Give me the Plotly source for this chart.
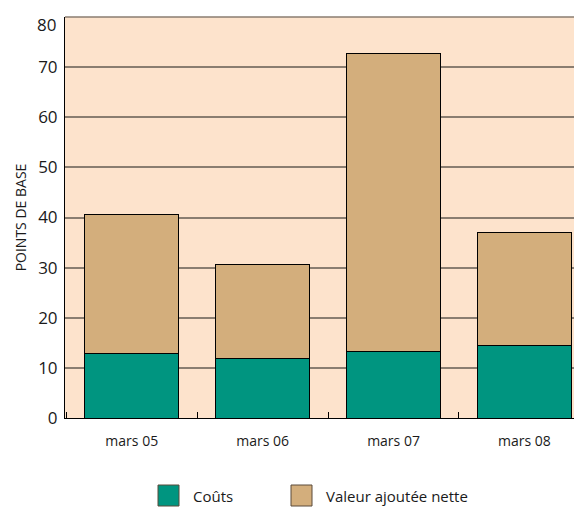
import plotly.graph_objects as go

categories = ["mars 05", "mars 06", "mars 07", "mars 08"]
couts = [12.9, 11.9, 13.3, 14.4]
valeur_ajoutee = [27.6, 18.8, 59.5, 22.7]
series_names = ["Coûts", "Valeur ajoutée nette"]
y_ticks = [0, 10, 20, 30, 40, 50, 60, 70, 80]

TEAL = "#009580"
TAN = "#d3ae7c"
BG = "#fde3cc"
GRID = "#8a7d70"
FONT = "Open Sans, Noto Sans, sans-serif"

fig = go.Figure()
fig.add_trace(go.Bar(x=categories, y=couts, name=series_names[0],
                     marker=dict(color=TEAL, line=dict(color="#000000", width=1))))
fig.add_trace(go.Bar(x=categories, y=valeur_ajoutee, name=series_names[1],
                     marker=dict(color=TAN, line=dict(color="#000000", width=1))))

# page body has an 8px margin, so the figure is 574x500 and starts at (8, 8)
fig.update_layout(
    barmode="stack",
    bargap=0.28,
    width=574, height=500,
    margin=dict(l=57, r=0, t=9, b=90, autoexpand=False),
    paper_bgcolor="white",
    plot_bgcolor=BG,
    showlegend=False,
    font=dict(family=FONT, color="#1a1a1a"),
)
fig.update_xaxes(
    type="category",
    range=[-0.51, 3.44],
    automargin=False,
    showline=True, linecolor="#000000", linewidth=1,
    ticks="inside", tickson="boundaries", ticklen=6, tickcolor="#000000", tickwidth=1,
    ticklabelstandoff=10,
    tickfont=dict(size=14, family=FONT, color="#1a1a1a"),
    showgrid=False,
)
# the top label (80) sits slightly below its gridline in the reference: drawn as annotation
tick_text = [str(v) for v in y_ticks[:-1]] + [""]
fig.update_yaxes(
    range=[0, 80],
    tickvals=y_ticks,
    ticktext=tick_text,
    automargin=False,
    ticklabeloverflow="allow",
    showline=True, linecolor="#000000", linewidth=1,
    gridcolor=GRID, gridwidth=1.5,
    zeroline=False,
    ticks="", ticklabelstandoff=3,
    tickfont=dict(size=17, family=FONT, color="#1a1a1a"),
    title=dict(text="POINTS DE BASE", font=dict(size=14, family=FONT, color="#1a1a1a"), standoff=8),
)
fig.add_annotation(text=str(y_ticks[-1]), xref="paper", yref="paper",
                   x=-(65 - 58) / 517, y=1, yshift=-7,
                   xanchor="right", yanchor="middle", showarrow=False,
                   font=dict(size=17, family=FONT, color="#1a1a1a"))

# top border line (gridline at the range max)
fig.add_shape(type="line", xref="paper", yref="paper", x0=0, x1=1, y0=1, y1=1,
              line=dict(color=GRID, width=1.5), layer="above")

# Legend (manual, large square swatches); plot area spans x 65..582, y 17..418 on the page
legend_items = [(series_names[0], TEAL, 158), (series_names[1], TAN, 291)]
for name, color, x0 in legend_items:
    fig.add_shape(type="rect", xref="paper", yref="paper",
                  x0=(x0 - 65) / 517, x1=(x0 + 21 - 65) / 517,
                  y0=(418 - 506) / 401, y1=(418 - 485) / 401,
                  fillcolor=color, line=dict(color="#5a4a3a", width=1))
    fig.add_annotation(text=name, xref="paper", yref="paper",
                       x=(x0 + 33 - 65) / 517, y=(418 - 496) / 401,
                       xanchor="left", yanchor="middle", showarrow=False,
                       font=dict(size=15, family=FONT, color="#1a1a1a"))

fig.write_html("out.html")
